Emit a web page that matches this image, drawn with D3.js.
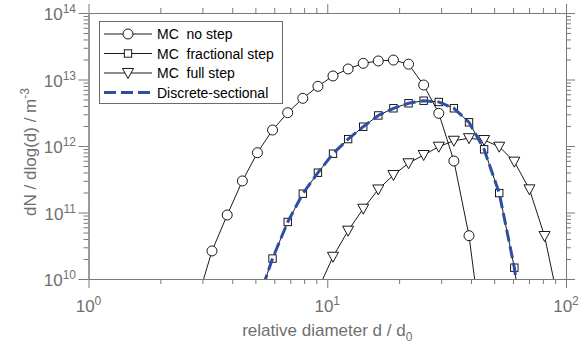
<!DOCTYPE html>
<html>
<head>
<meta charset="utf-8">
<script src="https://cdn.jsdelivr.net/npm/d3@7/dist/d3.min.js"></script>
<style>
  body { margin: 0; background: #fff; }
  svg text { font-family: "Liberation Sans", Arial, Helvetica, sans-serif; white-space: pre; }
</style>
</head>
<body>
<svg></svg>
<script>
// relative diameters d / d0 and dN/dlog(d) values (m^-3)
var noStepD = [2.85, 3.29, 3.81, 4.41, 5.10, 5.90, 6.83, 7.90, 9.14, 10.57, 12.23, 14.15, 16.36, 18.93, 21.90, 25.34, 29.32, 33.92, 39.24, 45.39];
var noStepN = [4.7e9, 2.64e10, 9.17e10, 2.98e11, 7.93e11, 1.74e12, 3.17e12, 5.21e12, 7.90e12, 1.13e13, 1.44e13, 1.75e13, 1.90e13, 1.96e13, 1.70e13, 8.26e12, 3.10e12, 5.95e11, 4.48e10, 7.9e8];

var fracD = [5.10, 5.90, 6.83, 7.90, 9.14, 10.57, 12.23, 14.15, 16.36, 18.93, 21.90, 25.34, 29.32, 33.92, 39.24, 45.39, 52.52, 60.76, 70.29];
var fracN = [4.5e9, 2.03e10, 7.20e10, 1.92e11, 3.97e11, 7.66e11, 1.27e12, 1.95e12, 2.88e12, 3.69e12, 4.39e12, 4.80e12, 4.59e12, 3.69e12, 2.27e12, 8.91e11, 1.96e11, 1.48e10, 3.9e8];

var fullD = [9.14, 10.57, 12.23, 14.15, 16.36, 18.93, 21.90, 25.34, 29.32, 33.92, 39.24, 45.39, 52.52, 60.76, 70.29, 81.32, 94.08];
var fullN = [6.9e9, 2.16e10, 5.33e10, 1.14e11, 2.22e11, 3.66e11, 5.50e11, 7.32e11, 9.76e11, 1.20e12, 1.31e12, 1.23e12, 9.76e11, 5.81e11, 2.23e11, 4.43e10, 3.66e9];

var dsD = [5.10, 5.90, 6.83, 7.90, 9.14, 10.57, 12.23, 14.15, 16.36, 18.93, 21.90, 25.34, 29.32, 33.92, 39.24, 45.39, 52.52, 60.76, 70.29];
var dsN = [4.5e9, 2.03e10, 7.20e10, 1.92e11, 3.97e11, 7.66e11, 1.27e12, 1.95e12, 2.88e12, 3.69e12, 4.39e12, 4.80e12, 4.59e12, 3.69e12, 2.27e12, 8.91e11, 1.96e11, 1.48e10, 3.9e8];

var legendLabels = ["MC  no step", "MC  fractional step", "MC  full step", "Discrete-sectional"];
var xMajor = [1, 10, 100];
var xMajorExp = ["0", "1", "2"];
var yMajor = [1e10, 1e11, 1e12, 1e13, 1e14];
var yMajorExp = ["10", "11", "12", "13", "14"];

var w = 581, h = 347;
var axisColor = "#7a7a7a", textColor = "#6f6f6f", blue = "#2f4da3";

var svg = d3.select("svg").attr("width", w).attr("height", h);

var x = d3.scaleLog().domain([1, 100]).range([88.5, 566]);
var y = d3.scaleLog().domain([1e10, 1e14]).range([279, 13]);
var x0 = x.range()[0], x1 = x.range()[1], y0 = y.range()[0], y1 = y.range()[1];

// minor ticks 2..9 in every decade
function minors(lo, hi) {
  var out = [];
  for (var p = lo; p < hi; p++) {
    for (var k = 2; k <= 9; k++) out.push(k * Math.pow(10, p));
  }
  return out;
}
var xMinor = minors(0, 2);
var yMinor = minors(10, 14);

function styleAxis(g) {
  g.selectAll("path, line").attr("stroke", axisColor);
  g.selectAll("text").remove();
}

// ticks on all four sides, pointing out
svg.append("g").attr("transform", "translate(0," + y0 + ")")
  .call(d3.axisBottom(x).tickValues(xMajor).tickSize(9).tickSizeOuter(0)).call(styleAxis);
svg.append("g").attr("transform", "translate(0," + y0 + ")")
  .call(d3.axisBottom(x).tickValues(xMinor).tickSize(5).tickSizeOuter(0)).call(styleAxis);
svg.append("g").attr("transform", "translate(0," + y1 + ")")
  .call(d3.axisTop(x).tickValues(xMajor).tickSize(9).tickSizeOuter(0)).call(styleAxis);
svg.append("g").attr("transform", "translate(0," + y1 + ")")
  .call(d3.axisTop(x).tickValues(xMinor).tickSize(5).tickSizeOuter(0)).call(styleAxis);
svg.append("g").attr("transform", "translate(" + x0 + ",0)")
  .call(d3.axisLeft(y).tickValues(yMajor).tickSize(10).tickSizeOuter(0)).call(styleAxis);
svg.append("g").attr("transform", "translate(" + x0 + ",0)")
  .call(d3.axisLeft(y).tickValues(yMinor).tickSize(5).tickSizeOuter(0)).call(styleAxis);
svg.append("g").attr("transform", "translate(" + x1 + ",0)")
  .call(d3.axisRight(y).tickValues(yMajor).tickSize(9).tickSizeOuter(0)).call(styleAxis);
svg.append("g").attr("transform", "translate(" + x1 + ",0)")
  .call(d3.axisRight(y).tickValues(yMinor).tickSize(5).tickSizeOuter(0)).call(styleAxis);

// tick labels 10^n
xMajor.forEach(function (v, i) {
  var t = svg.append("text").attr("x", x(v)).attr("y", 312)
    .attr("text-anchor", "middle").attr("fill", textColor).attr("font-size", 17);
  t.append("tspan").text("10");
  t.append("tspan").attr("dy", -7).attr("font-size", 12).text(xMajorExp[i]);
});
yMajor.forEach(function (v, i) {
  var t = svg.append("text").attr("x", 76).attr("y", y(v) + 7)
    .attr("text-anchor", "end").attr("fill", textColor).attr("font-size", 17);
  t.append("tspan").text("10");
  t.append("tspan").attr("dy", -7).attr("font-size", 12).text(yMajorExp[i]);
});

// axis titles, centred by measuring their length
function centre(t) {
  var len = t.node().getComputedTextLength();
  t.attr("x", -len / 2);
}
var xt = svg.append("g").attr("transform", "translate(" + (x0 + x1) / 2 + ",336)")
  .append("text").attr("fill", textColor).attr("font-size", 17);
xt.append("tspan").text("relative diameter d / d");
xt.append("tspan").attr("dy", 5).attr("font-size", 12).text("0");
centre(xt);

var yt = svg.append("g").attr("transform", "translate(36," + ((y0 + y1) / 2 + 6) + ") rotate(-90)")
  .append("text").attr("fill", textColor).attr("font-size", 17);
yt.append("tspan").text("dN / dlog(d) / m");
yt.append("tspan").attr("dy", -7).attr("font-size", 12).text("-3");
centre(yt);

// clip to the plot box
svg.append("clipPath").attr("id", "clip").append("rect")
  .attr("x", x0).attr("y", y1).attr("width", x1 - x0).attr("height", y0 - y1);
var plot = svg.append("g").attr("clip-path", "url(#clip)");

var line = d3.line().x(function (d) { return x(d[0]); }).y(function (d) { return y(d[1]); });

function pairs(ds, ns) { return ds.map(function (d, i) { return [d, ns[i]]; }); }

var symCircle = function (s) { s.append("circle").attr("r", 5); };
var symSquare = function (s) { s.append("rect").attr("x", -3.7).attr("y", -3.7).attr("width", 7.4).attr("height", 7.4); };
var symTri = function (s) { s.append("path").attr("d", "M-5.5,-4.5L5.5,-4.5L0,5.5Z"); };

var series = [
  { data: pairs(noStepD, noStepN), sym: symCircle },
  { data: pairs(fracD, fracN), sym: symSquare },
  { data: pairs(fullD, fullN), sym: symTri }
];

series.forEach(function (s) {
  plot.append("path").datum(s.data).attr("d", line)
    .attr("fill", "none").attr("stroke", "#000").attr("stroke-width", 0.9);
  plot.append("g").selectAll("g").data(s.data).enter().append("g")
    .attr("transform", function (d) { return "translate(" + x(d[0]) + "," + y(d[1]) + ")"; })
    .attr("fill", "#fff").attr("stroke", "#000").attr("stroke-width", 0.9)
    .each(function () { s.sym(d3.select(this)); });
});

// discrete-sectional result on top
plot.append("path").datum(pairs(dsD, dsN)).attr("d", line)
  .attr("fill", "none").attr("stroke", blue).attr("stroke-width", 3)
  .attr("stroke-dasharray", "12,5");

// legend
var leg = svg.append("g");
leg.append("rect").attr("x", 99.5).attr("y", 21.5).attr("width", 183).attr("height", 82)
  .attr("fill", "#fff").attr("stroke", "#6a6a6a").attr("stroke-width", 1);
var rows = [34, 53.5, 73, 92.5];
var legSyms = [symCircle, symSquare, symTri, null];
legendLabels.forEach(function (lab, i) {
  var r = leg.append("g").attr("transform", "translate(0," + rows[i] + ")");
  if (legSyms[i]) {
    r.append("line").attr("x1", 104).attr("x2", 152).attr("stroke", "#000").attr("stroke-width", 0.9);
    var m = r.append("g").attr("transform", "translate(128,0)")
      .attr("fill", "#fff").attr("stroke", "#000").attr("stroke-width", 0.9);
    legSyms[i](m);
  } else {
    r.append("line").attr("x1", 104).attr("x2", 152).attr("stroke", blue)
      .attr("stroke-width", 3).attr("stroke-dasharray", "12,5");
  }
  r.append("text").attr("x", 157).attr("y", 5).attr("font-size", 14).attr("fill", "#000").text(lab);
});
</script>
</body>
</html>
